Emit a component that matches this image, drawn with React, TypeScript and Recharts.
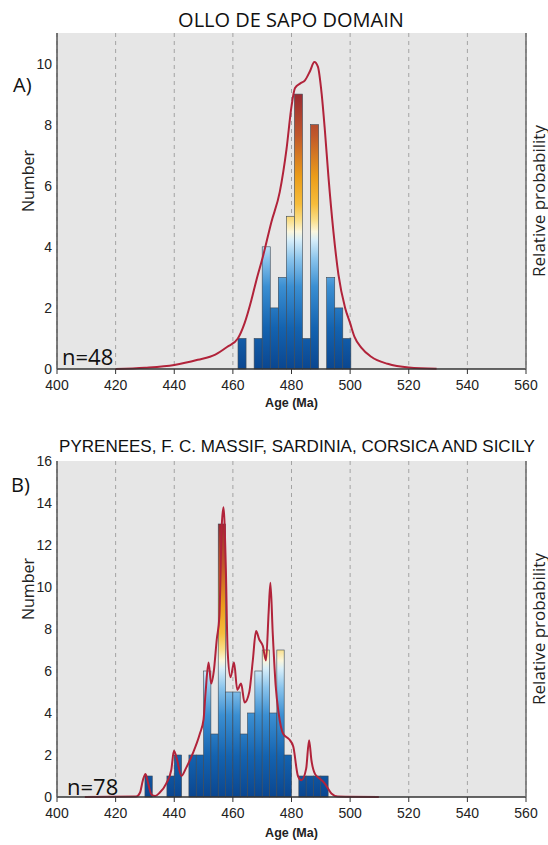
import React from 'react';
import { ComposedChart, Bar, Line, XAxis, YAxis, CartesianGrid } from 'recharts';

// ---- shared axis ticks ----
const AGE_TICKS = [400, 420, 440, 460, 480, 500, 520, 540, 560];
const COUNT_TICKS_A = [0, 2, 4, 6, 8, 10];
const COUNT_TICKS_B = [0, 2, 4, 6, 8, 10, 12, 14, 16];

// ---- A) Ollo de Sapo domain: histogram bins (centres, Ma) and counts ----
const BIN_CENTERS_A = [463.125, 465.875, 468.625, 471.375, 474.125, 476.875, 479.625, 482.375, 485.125, 487.875, 490.625, 493.375, 496.125, 498.875];
const COUNTS_A = [1, 0, 1, 4, 2, 3, 5, 9, 1, 8, 0, 3, 2, 1];

// probability density curve A (age, value in count units)
const CURVE_AGE_A = [420, 430, 440, 448, 454, 458, 461.7, 464, 466.3, 468, 470.3, 473.1, 476, 478.3, 480, 481.2, 483, 484.6, 486.3, 487.8, 489, 490.3, 491.4, 492.6, 494.3, 496, 498.3, 500, 501.5, 503.8, 507.2, 512.8, 520, 529.5];
const CURVE_VAL_A = [0.0, 0.04, 0.13, 0.3, 0.47, 0.72, 1.0, 1.5, 2.25, 2.9, 3.7, 4.8, 5.8, 7.2, 8.6, 9.2, 9.35, 9.45, 9.75, 10.05, 9.9, 9.0, 7.8, 6.3, 4.5, 3.1, 2.0, 1.5, 1.05, 0.7, 0.4, 0.17, 0.05, 0.01];

// ---- B) Pyrenees, F. C. Massif, Sardinia, Corsica and Sicily ----
const BIN_CENTERS_B = [431.25, 433.75, 436.25, 438.75, 441.25, 443.75, 446.25, 448.75, 451.25, 453.75, 456.25, 458.75, 461.25, 463.75, 466.25, 468.75, 471.25, 473.75, 476.25, 478.75, 481.25, 483.75, 486.25, 488.75, 491.25];
const COUNTS_B = [1, 0, 0, 1, 2, 0, 2, 2, 6, 3, 13, 5, 5, 3, 4, 6, 7, 4, 7, 2, 0, 1, 1, 1, 1];

const CURVE_AGE_B = [409.5, 427, 428.3, 429.3, 430.2, 431.1, 432.3, 433.5, 435, 437.3, 439, 439.9, 441, 442.4, 444.1, 446.4, 448.7, 450, 450.7, 451.7, 452.6, 453.5, 454.5, 455.4, 456.2, 456.8, 457.6, 458.2, 459.2, 460.4, 461.5, 462.8, 464, 465.6, 466.8, 467.9, 469, 470.2, 471.3, 472.2, 472.8, 473.6, 474.6, 475.6, 477.2, 479.2, 480.6, 482.2, 483.4, 485, 486, 486.8, 488, 489.6, 491.3, 493.6, 495.8, 509.8];
const CURVE_VAL_B = [0, 0.02, 0.2, 0.8, 1.1, 0.65, 0.1, 0.05, 0.2, 0.65, 1.3, 2.2, 1.75, 1.0, 1.4, 2.1, 3.0, 3.7, 5.0, 6.4, 5.4, 6.0, 7.5, 8.6, 12.9, 13.8, 10.9, 7.0, 5.7, 6.4, 5.1, 5.4, 4.5, 5.0, 6.5, 7.9, 7.5, 7.2, 6.5, 8.8, 10.2, 7.8, 5.3, 4.0, 3.0, 2.75, 2.4, 1.0, 0.8, 1.35, 2.7, 1.75, 1.1, 0.88, 0.65, 0.17, 0.02, 0];

const binsA = BIN_CENTERS_A.map((age, i) => ({ age, count: COUNTS_A[i] }));
const binsB = BIN_CENTERS_B.map((age, i) => ({ age, count: COUNTS_B[i] }));
const curveA = CURVE_AGE_A.map((age, i) => ({ age, p: CURVE_VAL_A[i] }));
const curveB = CURVE_AGE_B.map((age, i) => ({ age, p: CURVE_VAL_B[i] }));

// colour ramp, fraction of the tallest bar
const RAMP = [
  [0, '#0a4690'],
  [0.15, '#1463b0'],
  [0.3, '#3b8fd2'],
  [0.4, '#8ac4ec'],
  [0.47, '#d8eef9'],
  [0.5, '#fbf6dc'],
  [0.54, '#fadf8a'],
  [0.6, '#f6bd3c'],
  [0.7, '#eb9d1a'],
  [0.85, '#c0582b'],
  [1, '#9a2a33'],
];

const CHART_W = 548;
const Y_AXIS_W = 37;
const MARGIN_L = 20;
const RIGHT_AXIS_W = 22;
const PLOT_W = CHART_W - MARGIN_L - Y_AXIS_W - RIGHT_AXIS_W;
const AGE_SPAN = 160;
const CURVE_COLOR = '#b1233a';
const sans = '"Liberation Sans", Arial, sans-serif';
const myriad = '"Open Sans", "Noto Sans", sans-serif';

// bar drawn with a gradient tied to the count scale (bottom = 0, top = tallest bin)
const makeBarShape = (maxCount: number, binWidth: number, prefix: string) => (props: any) => {
  const { x, y, width, height, payload, index } = props;
  if (!payload || !payload.count || !height || height <= 0) return null;
  const w = (PLOT_W * binWidth) / AGE_SPAN;
  const cx = x + width / 2;
  const unit = height / payload.count;
  const bottom = y + height;
  const top = bottom - maxCount * unit;
  const id = `${prefix}-${index}`;
  return (
    <g>
      <defs>
        <linearGradient id={id} gradientUnits="userSpaceOnUse" x1={0} y1={bottom} x2={0} y2={top}>
          {RAMP.map(([o, c]) => (
            <stop key={o as number} offset={o as number} stopColor={c as string} />
          ))}
        </linearGradient>
      </defs>
      <rect x={cx - w / 2} y={y} width={w} height={height} fill={`url(#${id})`} stroke="#3d4854" strokeWidth={0.6} />
    </g>
  );
};

const SideLabel = (props: any) => {
  const { viewBox, text, dx, dy = 0, size } = props;
  if (!viewBox) return null;
  const cx = viewBox.x + dx;
  const cy = viewBox.y + viewBox.height / 2 + dy;
  return (
    <text x={cx} y={cy} transform={`rotate(-90 ${cx} ${cy})`} textAnchor="middle" dominantBaseline="central"
      fill="#222" fontSize={size} fontFamily={myriad}>
      {text}
    </text>
  );
};

const AgeLabel = (props: any) => {
  const { viewBox, dy } = props;
  if (!viewBox) return null;
  return (
    <text x={viewBox.x + viewBox.width / 2} y={viewBox.y + dy} textAnchor="middle" dominantBaseline="central"
      fill="#222" fontSize={12.5} fontWeight="bold" fontFamily={sans}>
      Age (Ma)
    </text>
  );
};

interface PanelProps {
  height: number;
  top: number;
  bins: any[];
  curve: any[];
  yMax: number;
  yTicks: number[];
  binWidth: number;
  maxCount: number;
  prefix: string;
  numberDy: number;
  ageDy: number;
}

const Panel = ({ height, top, bins, curve, yMax, yTicks, binWidth, maxCount, prefix, numberDy, ageDy }: PanelProps) => (
  <ComposedChart width={CHART_W} height={height} data={bins} margin={{ top, right: 0, bottom: 0, left: MARGIN_L }}
    barCategoryGap={0} barGap={0}>
    <CartesianGrid xAxisId="main" yAxisId="count" horizontal={false} fill="#e6e6e6" fillOpacity={1}
      stroke="#a3a3a3" strokeDasharray="4 4" />
    <XAxis xAxisId="top" orientation="top" type="number" dataKey="age" domain={[400, 560]} height={0}
      tick={false} tickLine={false} axisLine={{ stroke: '#6a6a6a', strokeWidth: 1.5 }} />
    <XAxis xAxisId="main" type="number" dataKey="age" domain={[400, 560]} ticks={AGE_TICKS} interval={0}
      height={43} tickSize={5} tickMargin={6}
      tick={{ fill: '#222', fontSize: 14, fontFamily: sans }}
      tickLine={{ stroke: '#333' }} axisLine={{ stroke: '#333', strokeWidth: 1.3 }}
      label={<AgeLabel dy={ageDy} />} />
    <YAxis yAxisId="count" domain={[0, yMax]} ticks={yTicks} interval={0} width={Y_AXIS_W} tickSize={3} tickLine={false}
      tick={{ fill: '#222', fontSize: 14, fontFamily: sans }} axisLine={{ stroke: '#555', strokeWidth: 1.5 }}
      label={<SideLabel text="Number" dx={8} dy={numberDy} size={16} />} />
    <YAxis yAxisId="prob" orientation="right" domain={[0, yMax]} width={RIGHT_AXIS_W} tick={false} tickLine={false}
      axisLine={{ stroke: '#6a6a6a', strokeWidth: 1.5 }}
      label={<SideLabel text="Relative probability" dx={12} size={17} />} />
    <Bar xAxisId="main" yAxisId="count" dataKey="count"
      shape={makeBarShape(maxCount, binWidth, prefix)} isAnimationActive={false} />
    <Line xAxisId="main" yAxisId="prob" data={curve} dataKey="p" type="monotone" dot={false} activeDot={false}
      stroke={CURVE_COLOR} strokeWidth={2} isAnimationActive={false} />
  </ComposedChart>
);

export default function App() {
  return (
    <div style={{ position: 'absolute', left: 0, top: 0, width: 548, height: 845, background: '#fff' }}>
      <Panel height={412} top={33} bins={binsA} curve={curveA} yMax={11} yTicks={COUNT_TICKS_A}
        binWidth={2.75} maxCount={9} prefix="ga" numberDy={-20} ageDy={34} />
      <Panel height={428} top={49} bins={binsB} curve={curveB} yMax={16} yTicks={COUNT_TICKS_B}
        binWidth={2.5} maxCount={13} prefix="gb" numberDy={-40} ageDy={36} />
      <svg width={548} height={845} style={{ position: 'absolute', left: 0, top: 0, pointerEvents: 'none' }}>
        <text x={291} y={19} textAnchor="middle" dominantBaseline="central" fontSize={20} fontFamily={myriad} fill="#111">
          OLLO DE SAPO DOMAIN
        </text>
        <text x={13} y={84} dominantBaseline="central" fontSize={20} fontFamily={myriad} fill="#111">A)</text>
        <text x={62} y={356} dominantBaseline="central" fontSize={22} fontFamily={myriad} fill="#111">n=48</text>
        <text x={297} y={446} textAnchor="middle" dominantBaseline="central" fontSize={17} fontFamily={sans} fill="#111">
          PYRENEES, F. C. MASSIF, SARDINIA, CORSICA AND SICILY
        </text>
        <text x={11} y={484} dominantBaseline="central" fontSize={20} fontFamily={myriad} fill="#111">B)</text>
        <text x={67} y={786} dominantBaseline="central" fontSize={22} fontFamily={myriad} fill="#111">n=78</text>
      </svg>
    </div>
  );
}
